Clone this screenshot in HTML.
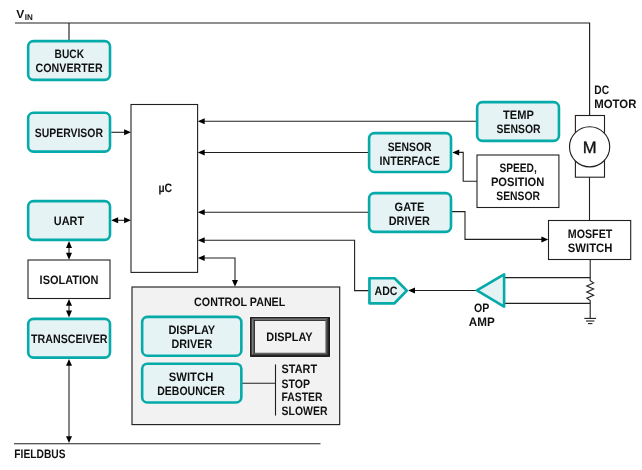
<!DOCTYPE html>
<html lang="en">
<head>
<meta charset="utf-8">
<title>Motor control block diagram</title>
<style>
html,body{margin:0;padding:0;background:#fff;}
body{width:642px;height:470px;overflow:hidden;}
svg{display:block;will-change:transform;}
svg text{text-rendering:geometricPrecision;font-family:"Liberation Sans","DejaVu Sans",sans-serif;fill:#111111;}
</style>
</head>
<body>
<svg width="642" height="470" viewBox="0 0 642 470">
<defs>
<linearGradient id="bvT" x1="0" y1="0" x2="0" y2="1"><stop offset="0" stop-color="#0d0d0d"/><stop offset="0.22" stop-color="#2a2a2a"/><stop offset="0.55" stop-color="#8c8c8c"/><stop offset="0.82" stop-color="#3a3a3a"/><stop offset="1" stop-color="#0d0d0d"/></linearGradient>
<linearGradient id="bvL" x1="0" y1="0" x2="1" y2="0"><stop offset="0" stop-color="#0d0d0d"/><stop offset="0.22" stop-color="#2a2a2a"/><stop offset="0.55" stop-color="#8c8c8c"/><stop offset="0.82" stop-color="#3a3a3a"/><stop offset="1" stop-color="#0d0d0d"/></linearGradient>
<linearGradient id="bvB" x1="0" y1="0" x2="0" y2="1"><stop offset="0" stop-color="#ffffff"/><stop offset="0.14" stop-color="#6a6a6a"/><stop offset="0.55" stop-color="#363636"/><stop offset="1" stop-color="#050505"/></linearGradient>
<linearGradient id="bvR" x1="0" y1="0" x2="1" y2="0"><stop offset="0" stop-color="#ffffff"/><stop offset="0.14" stop-color="#6a6a6a"/><stop offset="0.55" stop-color="#363636"/><stop offset="1" stop-color="#050505"/></linearGradient>
</defs>
<rect x="0" y="0" width="642" height="470" fill="#ffffff"/>
<path d="M15.00 22.95 L589.60 22.95 L589.60 116.00" fill="none" stroke="#231f20" stroke-width="1.15"/>
<path d="M69.00 22.95 L69.00 41.00" fill="none" stroke="#231f20" stroke-width="1.15"/>
<path d="M14.00 443.70 L320.50 443.70" fill="none" stroke="#231f20" stroke-width="1.1"/>
<path d="M111.30 132.30 L126.00 132.30" fill="none" stroke="#231f20" stroke-width="1.1"/>
<polygon points="131.00,132.30 124.10,129.30 124.10,135.30" fill="#000"/>
<path d="M116.00 220.30 L126.00 220.30" fill="none" stroke="#231f20" stroke-width="1.1"/>
<polygon points="111.20,220.30 118.10,217.30 118.10,223.30" fill="#000"/>
<polygon points="131.00,220.30 124.10,217.30 124.10,223.30" fill="#000"/>
<path d="M69.00 246.00 L69.00 254.00" fill="none" stroke="#231f20" stroke-width="1.1"/>
<polygon points="69.00,241.10 66.00,248.00 72.00,248.00" fill="#000"/>
<polygon points="69.00,259.70 66.00,252.80 72.00,252.80" fill="#000"/>
<path d="M69.00 303.00 L69.00 312.00" fill="none" stroke="#231f20" stroke-width="1.1"/>
<polygon points="69.00,298.90 66.00,305.80 72.00,305.80" fill="#000"/>
<polygon points="69.00,317.50 66.00,310.60 72.00,310.60" fill="#000"/>
<path d="M69.00 364.00 L69.00 438.00" fill="none" stroke="#231f20" stroke-width="1.1"/>
<polygon points="69.00,358.90 66.00,365.80 72.00,365.80" fill="#000"/>
<polygon points="69.00,443.10 66.00,436.20 72.00,436.20" fill="#000"/>
<path d="M476.00 121.20 L203.00 121.20" fill="none" stroke="#231f20" stroke-width="1.1"/>
<polygon points="197.80,121.20 204.70,118.20 204.70,124.20" fill="#000"/>
<path d="M368.00 152.50 L203.00 152.50" fill="none" stroke="#231f20" stroke-width="1.1"/>
<polygon points="197.80,152.50 204.70,149.50 204.70,155.50" fill="#000"/>
<path d="M368.00 212.30 L203.00 212.30" fill="none" stroke="#231f20" stroke-width="1.1"/>
<polygon points="197.80,212.30 204.70,209.30 204.70,215.30" fill="#000"/>
<path d="M203.00 240.20 L354.60 240.20 L354.60 290.60 L369.00 290.60" fill="none" stroke="#231f20" stroke-width="1.1"/>
<polygon points="197.80,240.20 204.70,237.20 204.70,243.20" fill="#000"/>
<path d="M203.00 258.00 L235.00 258.00 L235.00 282.00" fill="none" stroke="#231f20" stroke-width="1.1"/>
<polygon points="197.80,258.00 204.70,255.00 204.70,261.00" fill="#000"/>
<polygon points="235.00,286.80 232.00,279.90 238.00,279.90" fill="#000"/>
<path d="M477.00 181.30 L463.20 181.30 L463.20 152.40 L457.00 152.40" fill="none" stroke="#231f20" stroke-width="1.1"/>
<polygon points="452.30,152.40 459.20,149.40 459.20,155.40" fill="#000"/>
<path d="M452.00 211.60 L465.00 211.60 L465.00 239.40 L543.00 239.40" fill="none" stroke="#231f20" stroke-width="1.1"/>
<polygon points="548.30,239.40 541.40,236.40 541.40,242.40" fill="#000"/>
<path d="M413.00 290.50 L477.00 290.50" fill="none" stroke="#231f20" stroke-width="1.1"/>
<polygon points="408.10,290.50 415.00,287.50 415.00,293.50" fill="#000"/>
<path d="M589.50 177.00 L589.50 221.00" fill="none" stroke="#231f20" stroke-width="1.1"/>
<path d="M590.20 259.00 L590.20 280.60 L593.60 282.90 L586.80 285.95 L593.60 289.00 L586.80 292.10 L593.60 295.15 L586.80 298.20 L590.20 300.60 L590.20 318.30" fill="none" stroke="#231f20" stroke-width="1.1"/>
<path d="M504.00 277.60 L590.20 277.60" fill="none" stroke="#231f20" stroke-width="1.1"/>
<path d="M504.00 303.40 L590.20 303.40" fill="none" stroke="#231f20" stroke-width="1.1"/>
<path d="M584.30 318.40 L596.10 318.40" fill="none" stroke="#231f20" stroke-width="1.1"/>
<path d="M586.00 321.00 L594.40 321.00" fill="none" stroke="#231f20" stroke-width="1.1"/>
<path d="M588.00 323.60 L592.40 323.60" fill="none" stroke="#231f20" stroke-width="1.1"/>
<rect x="28.15" y="41.10" width="81.85" height="38.80" rx="5.3" ry="5.3" fill="#e6f3f5" stroke="#05aaa9" stroke-width="2.6"/>
<rect x="28.15" y="112.80" width="81.85" height="38.85" rx="5.3" ry="5.3" fill="#e6f3f5" stroke="#05aaa9" stroke-width="2.6"/>
<rect x="28.15" y="201.10" width="81.85" height="38.80" rx="5.3" ry="5.3" fill="#e6f3f5" stroke="#05aaa9" stroke-width="2.6"/>
<rect x="28.00" y="260.00" width="82.00" height="38.50" fill="#ffffff" stroke="#231f20" stroke-width="1.1"/>
<rect x="28.20" y="318.85" width="81.80" height="38.75" rx="5.3" ry="5.3" fill="#e6f3f5" stroke="#05aaa9" stroke-width="2.6"/>
<rect x="131.00" y="104.50" width="66.60" height="167.90" fill="#ffffff" stroke="#231f20" stroke-width="1.1"/>
<rect x="477.15" y="102.15" width="81.80" height="38.75" rx="5.3" ry="5.3" fill="#e6f3f5" stroke="#05aaa9" stroke-width="2.6"/>
<rect x="369.10" y="133.15" width="81.90" height="38.80" rx="5.3" ry="5.3" fill="#e6f3f5" stroke="#05aaa9" stroke-width="2.6"/>
<rect x="369.10" y="193.15" width="81.90" height="38.75" rx="5.3" ry="5.3" fill="#e6f3f5" stroke="#05aaa9" stroke-width="2.6"/>
<rect x="477.00" y="155.00" width="81.90" height="52.50" fill="#ffffff" stroke="#231f20" stroke-width="1.1"/>
<rect x="548.50" y="220.50" width="82.20" height="39.00" fill="#ffffff" stroke="#231f20" stroke-width="1.1"/>
<rect x="575.40" y="115.50" width="29.10" height="61.70" fill="#ffffff" stroke="#231f20" stroke-width="1.1"/>
<circle cx="589.6" cy="146.8" r="20.1" fill="#fff" stroke="#231f20" stroke-width="1.15"/>
<rect x="132" y="287" width="207.7" height="137.6" fill="#f2f2f2" stroke="#231f20" stroke-width="1.15"/>
<rect x="142.15" y="316.90" width="99.20" height="38.80" rx="5.3" ry="5.3" fill="#e6f3f5" stroke="#05aaa9" stroke-width="2.6"/>
<rect x="142.15" y="363.70" width="99.20" height="38.80" rx="5.3" ry="5.3" fill="#e6f3f5" stroke="#05aaa9" stroke-width="2.6"/>
<rect x="249.5" y="316.4" width="81.00" height="40.85" fill="#ffffff"/>
<rect x="250.1" y="317.0" width="79.80" height="39.65" fill="#111111"/>
<polygon points="250.1,317.0 329.9,317.0 325.05,320.9 254.9,320.9" fill="url(#bvT)"/>
<polygon points="250.1,317.0 254.9,320.9 254.9,352.75 250.1,356.65" fill="url(#bvL)"/>
<polygon points="250.1,356.65 254.9,352.75 325.05,352.75 329.9,356.65" fill="url(#bvB)"/>
<polygon points="329.9,317.0 329.9,356.65 325.05,352.75 325.05,320.9" fill="url(#bvR)"/>
<rect x="254.9" y="320.9" width="70.15" height="31.85" fill="#f2f2f2"/>
<path d="M242.50 383.20 L275.50 383.20" fill="none" stroke="#231f20" stroke-width="1.1"/>
<path d="M275.50 364.40 L275.50 415.60" fill="none" stroke="#231f20" stroke-width="1.1"/>
<polygon points="369.45,278.25 394.5,278.25 406.8,290.6 394.5,303.3 369.45,303.3" fill="#e6f3f5" stroke="#05aaa9" stroke-width="2.7" stroke-linejoin="round"/>
<polygon points="476.9,290.4 504.1,274.3 504.1,306.6" fill="#e6f3f5" stroke="#05aaa9" stroke-width="2.6" stroke-linejoin="round"/>
<text x="16.20" y="18.30" font-size="11.6" font-weight="bold" textLength="8.00" lengthAdjust="spacingAndGlyphs">V</text>
<text x="24.85" y="20.00" font-size="8.2" font-weight="bold" textLength="8.05" lengthAdjust="spacingAndGlyphs">IN</text>
<text x="54.60" y="58.40" font-size="12.2" font-weight="bold" textLength="29.40" lengthAdjust="spacingAndGlyphs">BUCK</text>
<text x="35.60" y="72.30" font-size="12.2" font-weight="bold" textLength="67.10" lengthAdjust="spacingAndGlyphs">CONVERTER</text>
<text x="34.70" y="137.00" font-size="12.2" font-weight="bold" textLength="68.30" lengthAdjust="spacingAndGlyphs">SUPERVISOR</text>
<text x="53.80" y="224.90" font-size="12.2" font-weight="bold" textLength="30.30" lengthAdjust="spacingAndGlyphs">UART</text>
<text x="39.60" y="283.70" font-size="12.2" font-weight="bold" textLength="58.90" lengthAdjust="spacingAndGlyphs">ISOLATION</text>
<text x="31.00" y="343.20" font-size="12.2" font-weight="bold" textLength="76.50" lengthAdjust="spacingAndGlyphs">TRANSCEIVER</text>
<text x="14.30" y="458.20" font-size="12.2" font-weight="bold" textLength="51.20" lengthAdjust="spacingAndGlyphs">FIELDBUS</text>
<text x="158.50" y="192.30" font-size="12.2" font-weight="bold" textLength="13.70" lengthAdjust="spacingAndGlyphs">µC</text>
<text x="194.10" y="306.40" font-size="12.2" font-weight="bold" textLength="91.20" lengthAdjust="spacingAndGlyphs">CONTROL PANEL</text>
<text x="168.40" y="334.25" font-size="12.2" font-weight="bold" textLength="46.80" lengthAdjust="spacingAndGlyphs">DISPLAY</text>
<text x="171.50" y="348.35" font-size="12.2" font-weight="bold" textLength="40.70" lengthAdjust="spacingAndGlyphs">DRIVER</text>
<text x="168.80" y="380.55" font-size="12.2" font-weight="bold" textLength="44.50" lengthAdjust="spacingAndGlyphs">SWITCH</text>
<text x="157.30" y="395.20" font-size="12.2" font-weight="bold" textLength="67.60" lengthAdjust="spacingAndGlyphs">DEBOUNCER</text>
<text x="266.30" y="340.80" font-size="12.2" font-weight="bold" textLength="46.30" lengthAdjust="spacingAndGlyphs">DISPLAY</text>
<text x="281.60" y="373.30" font-size="12.2" font-weight="bold" textLength="35.50" lengthAdjust="spacingAndGlyphs">START</text>
<text x="281.60" y="387.50" font-size="12.2" font-weight="bold" textLength="28.50" lengthAdjust="spacingAndGlyphs">STOP</text>
<text x="281.60" y="400.90" font-size="12.2" font-weight="bold" textLength="40.90" lengthAdjust="spacingAndGlyphs">FASTER</text>
<text x="281.60" y="414.80" font-size="12.2" font-weight="bold" textLength="45.90" lengthAdjust="spacingAndGlyphs">SLOWER</text>
<text x="374.50" y="294.80" font-size="12.2" font-weight="bold" textLength="22.90" lengthAdjust="spacingAndGlyphs">ADC</text>
<text x="474.00" y="312.30" font-size="12.2" font-weight="bold" textLength="15.30" lengthAdjust="spacingAndGlyphs">OP</text>
<text x="468.80" y="326.15" font-size="12.2" font-weight="bold" textLength="25.90" lengthAdjust="spacingAndGlyphs">AMP</text>
<text x="567.80" y="238.30" font-size="12.2" font-weight="bold" textLength="44.50" lengthAdjust="spacingAndGlyphs">MOSFET</text>
<text x="567.80" y="252.30" font-size="12.2" font-weight="bold" textLength="44.70" lengthAdjust="spacingAndGlyphs">SWITCH</text>
<text x="503.10" y="119.35" font-size="12.2" font-weight="bold" textLength="30.80" lengthAdjust="spacingAndGlyphs">TEMP</text>
<text x="496.60" y="133.45" font-size="12.2" font-weight="bold" textLength="44.00" lengthAdjust="spacingAndGlyphs">SENSOR</text>
<text x="387.70" y="151.00" font-size="12.2" font-weight="bold" textLength="43.90" lengthAdjust="spacingAndGlyphs">SENSOR</text>
<text x="379.50" y="164.85" font-size="12.2" font-weight="bold" textLength="60.30" lengthAdjust="spacingAndGlyphs">INTERFACE</text>
<text x="394.60" y="210.50" font-size="12.2" font-weight="bold" textLength="29.80" lengthAdjust="spacingAndGlyphs">GATE</text>
<text x="388.70" y="224.65" font-size="12.2" font-weight="bold" textLength="41.20" lengthAdjust="spacingAndGlyphs">DRIVER</text>
<text x="499.40" y="171.70" font-size="12.2" font-weight="bold" textLength="37.40" lengthAdjust="spacingAndGlyphs">SPEED,</text>
<text x="490.90" y="185.70" font-size="12.2" font-weight="bold" textLength="53.40" lengthAdjust="spacingAndGlyphs">POSITION</text>
<text x="496.30" y="199.75" font-size="12.2" font-weight="bold" textLength="43.70" lengthAdjust="spacingAndGlyphs">SENSOR</text>
<text x="594.30" y="94.20" font-size="12.2" font-weight="bold" textLength="14.80" lengthAdjust="spacingAndGlyphs">DC</text>
<text x="594.30" y="108.30" font-size="12.2" font-weight="bold" textLength="42.10" lengthAdjust="spacingAndGlyphs">MOTOR</text>
<text x="589.6" y="152.9" font-size="16.6" font-weight="normal" stroke="#111" stroke-width="0.35" text-anchor="middle">M</text>
</svg>
</body>
</html>
